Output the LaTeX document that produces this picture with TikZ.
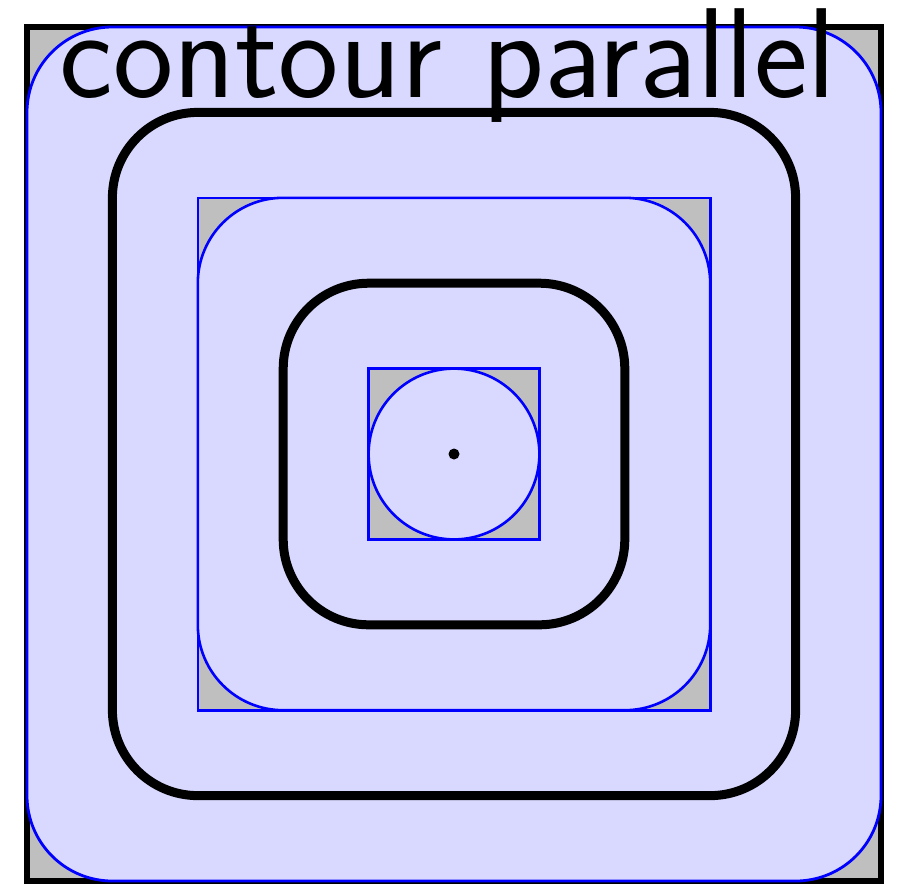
\documentclass[tikz,border=0pt]{standalone}
\usetikzlibrary{calc}
\begin{document}
\begin{tikzpicture}[x=1pt,y=-1pt,
  pocket/.style={fill=gray!50},
  toolarea/.style={draw=blue,fill=blue!15,line width=2.8pt},
  pathline/.style={draw=black,line width=9pt},
]
\useasboundingbox (0,0) rectangle (901,884);
\coordinate (C) at (454,454);
% outer pocket
\draw[pocket,line width=5.5pt] ($(C)+(-427,-427)$) rectangle ($(C)+(427,427)$);
\draw[toolarea,rounded corners=85.4pt] ($(C)+(-427,-427)$) rectangle ($(C)+(427,427)$);
% middle
\draw[pocket,draw=blue,line width=2.6pt] ($(C)+(-256.2,-256.2)$) rectangle ($(C)+(256.2,256.2)$);
\draw[toolarea,line width=2.6pt,rounded corners=85.4pt] ($(C)+(-256.2,-256.2)$) rectangle ($(C)+(256.2,256.2)$);
% inner
\draw[pocket,draw=blue,line width=2.6pt] ($(C)+(-85.4,-85.4)$) rectangle ($(C)+(85.4,85.4)$);
\draw[toolarea,line width=2.6pt] (C) circle (85.4pt);
% tool paths
\draw[pathline,rounded corners=85.4pt] ($(C)+(-341.6,-341.6)$) rectangle ($(C)+(341.6,341.6)$);
\draw[pathline,rounded corners=85.4pt] ($(C)+(-170.8,-170.8)$) rectangle ($(C)+(170.8,170.8)$);
\fill (C) circle (5.5pt);
\node[anchor=base,inner sep=0pt,font=\fontsize{128}{128}\sffamily] (title) at (448,97) {contour parallel};
\end{tikzpicture}
\end{document}
